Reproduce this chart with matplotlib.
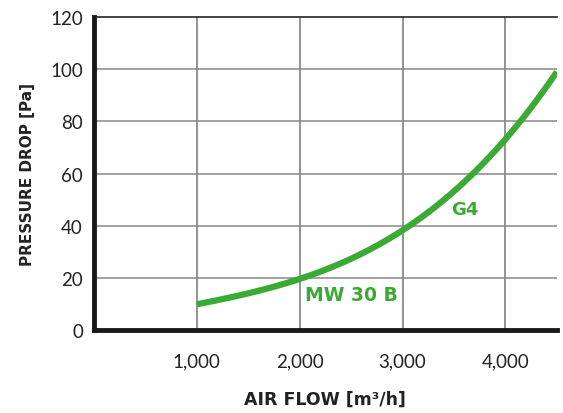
import matplotlib.pyplot as plt
import numpy as np

# data
air_flow = [1000, 1500, 2000, 2500, 3000, 3500, 4000, 4500]
pressure = [10, 14, 19.5, 27.5, 38.5, 53, 73, 99]
x_ticks = [1000, 2000, 3000, 4000]
x_labels = ['1,000', '2,000', '3,000', '4,000']
y_ticks = [0, 20, 40, 60, 80, 100, 120]

green = '#3aaa35'
plt.rcParams['font.family'] = ['Lato', 'DejaVu Sans']
bold_font = ['DejaVu Sans']

fig = plt.figure(figsize=(5.63, 4.14), dpi=100)
ax = fig.add_axes([0.167, 0.2, 0.822, 0.757])

# smooth curve through the read points
xs = np.linspace(air_flow[0], air_flow[-1], 200)
coef = np.polyfit(air_flow, pressure, 3)
ax.plot(xs, np.polyval(coef, xs), color=green, lw=4.5, solid_capstyle='butt', zorder=3)

ax.set_xlim(0, 4500)
ax.set_ylim(0, 120)
ax.set_xticks(x_ticks)
ax.set_xticklabels(x_labels)
ax.set_yticks(y_ticks)

for v in x_ticks:
    ax.axvline(v, color='#777777', lw=1.1, zorder=1)
for v in y_ticks[1:-1]:
    ax.axhline(v, color='#888888', lw=1.1, zorder=1)
ax.axhline(120, color='#222222', lw=1.2, zorder=1, clip_on=False)

ax.spines['right'].set_visible(False)
ax.spines['top'].set_visible(False)
ax.spines['left'].set_linewidth(3.5)
ax.spines['bottom'].set_linewidth(3.5)
ax.spines['left'].set_color('#1a1a1a')
ax.spines['bottom'].set_color('#1a1a1a')

ax.tick_params(length=0, labelsize=13.5, colors='#222222', pad=8)
ax.tick_params(axis='x', pad=16)

ax.set_xlabel('AIR FLOW [m³/h]', fontsize=12.5, fontweight='bold', family=bold_font,
              labelpad=15, color='#222222')
ax.set_ylabel('PRESSURE DROP [Pa]', fontsize=11, fontweight='bold', family=bold_font,
              labelpad=11, color='#222222')

ax.text(3610, 46.5, 'G4', color=green, fontsize=13, fontweight='bold', family=bold_font,
        ha='center', va='center')
ax.text(2050, 13.5, 'MW 30 B', color=green, fontsize=13.5, fontweight='bold', family=bold_font,
        ha='left', va='center')

fig.savefig('out.png', dpi=100)
